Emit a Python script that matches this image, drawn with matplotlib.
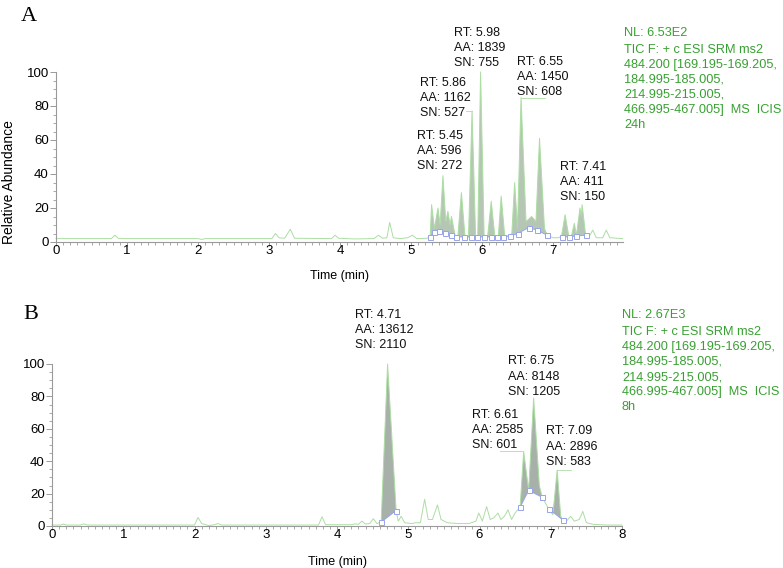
import numpy as np
import matplotlib
matplotlib.use("Agg")
from matplotlib import pyplot as plt
from matplotlib.ticker import MultipleLocator

W, H = 783, 568

# ---------- panel A (24h) ----------
A_TIME = [0.00, 0.78, 0.83, 0.88, 2.00, 2.05, 2.10, 3.04, 3.09, 3.14, 3.22, 3.30, 3.36,
          3.88, 3.93, 3.98, 4.20, 4.48, 4.54, 4.60, 4.66, 4.70, 4.75, 4.85, 4.95, 5.02,
          5.08, 5.22, 5.27, 5.29, 5.33, 5.38, 5.41, 5.45, 5.49, 5.52, 5.55, 5.57, 5.62,
          5.66, 5.71, 5.76, 5.81, 5.86, 5.91, 5.94, 5.98, 6.03, 6.08, 6.13, 6.18, 6.23,
          6.27, 6.32, 6.38, 6.42, 6.46, 6.50, 6.55, 6.62, 6.70, 6.76, 6.81, 6.88, 6.92,
          7.00, 7.08, 7.12, 7.17, 7.22, 7.26, 7.30, 7.33, 7.38, 7.40, 7.41, 7.46, 7.50,
          7.56, 7.61, 7.70, 7.75, 7.80, 7.98]
A_ABUND = [2, 2, 4, 2, 2, 1.5, 2, 2, 5, 2.5, 2.2, 7.5, 2.2,
           2, 4, 2.2, 1.8, 2, 4, 2.2, 2.5, 11.5, 2.5, 2, 2.5, 4,
           2, 2.2, 3, 22, 8, 20, 10, 39, 12, 18, 10, 15, 4,
           3.5, 29, 3.5, 3.2, 77, 3.2, 3.2, 100, 3.2, 3.5, 24, 3.5, 3.2,
           27, 3.5, 3.6, 5, 35, 8, 85, 12, 15, 12, 61, 8, 4,
           2.5, 2.5, 3.5, 16, 4, 3.5, 11, 4, 20, 15, 22, 4, 2.5,
           7, 2.5, 2.5, 7, 2.5, 2]
A_BASE_TIME = [5.27, 5.33, 5.40, 5.48, 5.56, 5.64, 5.75, 5.84, 5.93, 6.03, 6.12, 6.21,
               6.30, 6.40, 6.50, 6.66, 6.77, 6.92, 7.12, 7.22, 7.32, 7.46]
A_BASE_ABUND = [3, 6, 6.5, 5.5, 4, 3, 3, 3, 3, 3, 3, 3,
                3, 3.5, 5, 8.5, 7, 4, 3, 3, 3.5, 4]
A_FILL_SEG = [(0, 17), (18, 21)]
A_LINE_SEG = [(0, 17), (18, 21)]
A_PEAK_RT = [5.45, 5.86, 5.98, 6.55, 7.41]
A_PEAK_AA = [596, 1162, 1839, 1450, 411]
A_PEAK_SN = [272, 527, 755, 608, 150]
A_NL = "6.53E2"
A_TAG = "24h"

# ---------- panel B (8h) ----------
B_TIME = [0.00, 0.12, 0.16, 0.20, 0.40, 0.44, 0.50, 2.00, 2.05, 2.10, 2.20, 2.28, 2.33,
          2.38, 3.74, 3.79, 3.84, 4.20, 4.26, 4.30, 4.35, 4.40, 4.46, 4.51, 4.56, 4.62,
          4.71, 4.83, 4.86, 4.90, 4.95, 5.05, 5.10, 5.17, 5.23, 5.28, 5.34, 5.41, 5.46,
          5.55, 5.70, 5.85, 5.95, 5.99, 6.04, 6.10, 6.15, 6.20, 6.26, 6.30, 6.35, 6.40,
          6.45, 6.50, 6.57, 6.62, 6.69, 6.76, 6.84, 6.88, 6.97, 7.03, 7.09, 7.14, 7.17,
          7.22, 7.28, 7.33, 7.40, 7.45, 7.50, 7.60, 7.80, 8.00]
B_ABUND = [0.6, 0.6, 1.2, 0.6, 0.6, 1.3, 0.6, 0.6, 5.3, 1.5, 0.3, 0.8, 1.5,
           0.6, 0.6, 5.7, 0.8, 0.8, 1.3, 1.0, 3.0, 1.2, 1.5, 4.5, 1.5, 2.5,
           100, 9.5, 3, 6, 2, 1.5, 2, 2, 16.5, 4, 4, 13, 4,
           2, 1.5, 1.5, 3, 8, 3, 12, 4, 5, 8, 4, 6, 10,
           4, 8, 11.7, 46, 22, 79, 25, 17.7, 10.7, 7, 34.5, 6, 3.7,
           3, 6, 3, 4, 9, 2, 1, 0.6, 0.6]
B_BASE_TIME = [4.62, 4.83, 6.57, 6.69, 6.88, 6.97, 7.17]
B_BASE_ABUND = [2.5, 9.5, 11.7, 22, 17.7, 10.7, 3.7]
B_FILL_SEG = [(0, 1), (2, 3), (3, 4), (5, 6)]
B_LINE_SEG = [(0, 1), (2, 4), (5, 6)]
B_PEAK_RT = [4.71, 6.61, 6.75, 7.09]
B_PEAK_AA = [13612, 2585, 8148, 2896]
B_PEAK_SN = [2110, 601, 1205, 583]
B_NL = "2.67E3"
B_TAG = "8h"

FILTER_LINES = ["TIC F: + c ESI SRM ms2",
                "484.200 [169.195-169.205,",
                "184.995-185.005,",
                "214.995-215.005,",
                "466.995-467.005]  MS  ICIS"]

# layout: label block (left time, middle-line abundance), leader end
A_LABEL_POS = [(5.08, 53.5), (5.13, 84.7), (5.61, 114), (6.49, 97), (7.10, 35.3)]
A_LEADER = {5.86: 5.77, 6.55: 6.89}
B_LABEL_POS = [(4.25, 121), (5.89, 59.3), (6.40, 92.2), (6.94, 49)]
B_LEADER = {6.61: 6.29, 7.09: 7.29}

TRACE = "#acdea3"
BASE = "#97a4ea"
GREEN = "#38a032"
AXC = "#9a9a9a"

plt.rcParams['font.family'] = ['Liberation Sans', 'DejaVu Sans']

fig = plt.figure(figsize=(W / 100, H / 100), dpi=100)


def draw_panel(rect, xmax, t, a, bt, ba, fill_seg, line_seg, fill_col,
               rts, aas, sns, label_pos, leaders):
    ax = fig.add_axes(rect)
    t = np.array(t)
    a = np.array(a)
    bt = np.array(bt)
    ba = np.array(ba)

    for i0, i1 in fill_seg:
        m = (t >= bt[i0] - 1e-9) & (t <= bt[i1] + 1e-9)
        px = np.concatenate([t[m], bt[i0:i1 + 1][::-1]])
        py = np.concatenate([a[m], ba[i0:i1 + 1][::-1]])
        ax.fill(px, py, color=fill_col, lw=0, zorder=1)

    ax.plot(t, a, color=TRACE, lw=0.7, zorder=2, clip_on=False)

    for i0, i1 in line_seg:
        ax.plot(bt[i0:i1 + 1], ba[i0:i1 + 1], color=BASE, lw=0.7, zorder=3)
    ax.plot(bt, ba, ls='none', marker='s', ms=3.6, mfc='white', mec=BASE,
            mew=0.7, zorder=4, clip_on=False)

    for (lx, ly), rt, aa, sn in zip(label_pos, rts, aas, sns):
        lines = [f"RT: {rt:.2f}", f"AA: {aa}", f"SN: {sn}"]
        for k, s in enumerate(lines):
            ax.annotate(s, xy=(lx, ly), xytext=(0, (1 - k) * 10.9),
                        textcoords='offset points', ha='left', va='center',
                        fontsize=9, color='#111111', annotation_clip=False)
        if rt in leaders:
            h = a[np.argmin(np.abs(t - rt))]
            ax.plot([rt, leaders[rt]], [h, h], color=TRACE, lw=0.6, zorder=2,
                    clip_on=False)

    ax.set_xlim(0, xmax)
    ax.set_ylim(0, 100)
    for s in ['top', 'right']:
        ax.spines[s].set_visible(False)
    for s in ['left', 'bottom']:
        ax.spines[s].set_color(AXC)
        ax.spines[s].set_linewidth(0.8)
    ax.xaxis.set_major_locator(MultipleLocator(1))
    ax.xaxis.set_minor_locator(MultipleLocator(0.1))
    ax.yaxis.set_major_locator(MultipleLocator(20))
    ax.yaxis.set_minor_locator(MultipleLocator(5))
    ax.tick_params(axis='y', which='major', length=4, width=0.7, color=AXC,
                   labelsize=9.5, pad=1.2)
    ax.tick_params(axis='y', which='minor', length=2.5, width=0.6, color=AXC)
    ax.tick_params(axis='x', which='major', length=3, width=0.7, color=AXC,
                   labelsize=9.5, pad=-1)
    ax.tick_params(axis='x', which='minor', length=2, width=0.6, color=AXC)
    ax.patch.set_alpha(0)
    return ax


draw_panel([56 / W, 1 - 242 / H, 7.98 * 71 / W, 170 / H], 7.98,
           A_TIME, A_ABUND, A_BASE_TIME, A_BASE_ABUND, A_FILL_SEG, A_LINE_SEG,
           "#b6c6b4", A_PEAK_RT, A_PEAK_AA, A_PEAK_SN, A_LABEL_POS, A_LEADER)
draw_panel([52 / W, 1 - 526 / H, 570 / W, 162 / H], 8,
           B_TIME, B_ABUND, B_BASE_TIME, B_BASE_ABUND, B_FILL_SEG, B_LINE_SEG,
           "#a7b0a9", B_PEAK_RT, B_PEAK_AA, B_PEAK_SN, B_LABEL_POS, B_LEADER)


def info_block(x, y0, nl, tag):
    fig.text(x / W, 1 - y0 / H, f"NL: {nl}", color=GREEN, fontsize=9.2,
             ha='left', va='center')
    rows = FILTER_LINES + [tag]
    for k, s in enumerate(rows):
        fig.text(x / W, 1 - (y0 + 17 + 15 * k) / H, s, color=GREEN, fontsize=9.2,
                 ha='left', va='center')


info_block(624, 33, A_NL, A_TAG)
info_block(622, 315, B_NL, B_TAG)

fig.text(21 / W, 1 - 21 / H, "A", fontfamily='Liberation Serif', fontsize=16,
         va='baseline', ha='left')
fig.text(23 / W, 1 - 319 / H, "B", fontfamily='Liberation Serif', fontsize=16,
         va='baseline', ha='left')

fig.text(9 / W, 1 - 182 / H, "Relative Abundance", rotation=90, fontsize=10,
         ha='center', va='center')
fig.text(340 / W, 1 - 276 / H, "Time (min)", fontsize=9, ha='center', va='center')
fig.text(337 / W, 1 - 562 / H, "Time (min)", fontsize=9, ha='center', va='center')

fig.savefig("out.png", dpi=100)
